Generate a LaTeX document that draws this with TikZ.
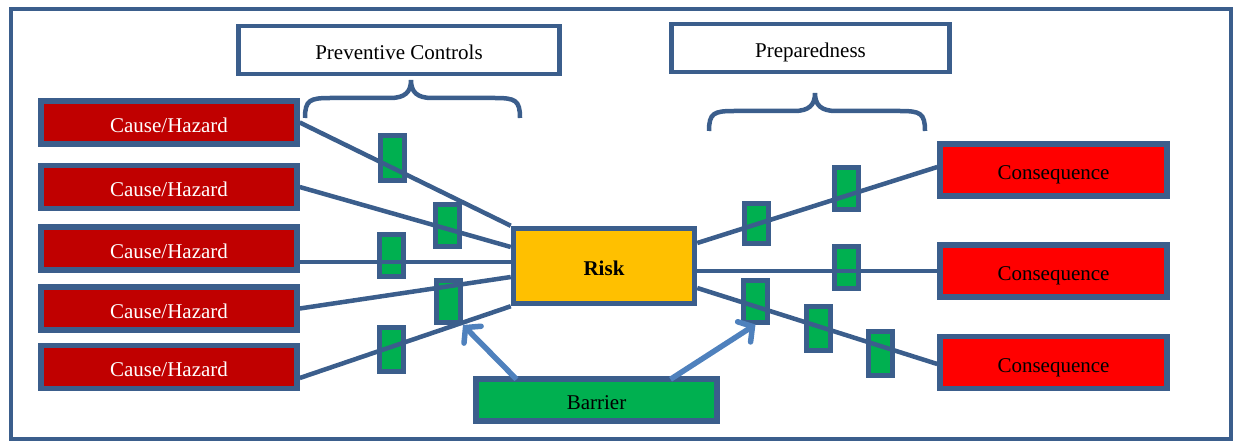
\documentclass[tikz,border=0pt]{standalone}
\usepackage{fontspec}
\setmainfont{Liberation Serif}
\usetikzlibrary{arrows.meta}
\definecolor{framec}{HTML}{3B5E8C}
\definecolor{causered}{HTML}{C00000}
\definecolor{conred}{HTML}{FF0000}
\definecolor{riskyel}{HTML}{FFC000}
\definecolor{barg}{HTML}{00B050}
\definecolor{arrowblue}{HTML}{4F81BD}
\begin{document}
\begin{tikzpicture}[x=1pt,y=-1pt,
  every node/.style={font=\fontsize{21}{25}\selectfont, inner sep=0pt, text height=19pt, text depth=0pt},
  box/.style={draw=framec, line width=5.5pt, inner sep=0pt},
  cause/.style={box, fill=causered, text=white, minimum width=256pt, minimum height=43pt},
  conseq/.style={box, fill=conred, text=black, minimum width=227pt, minimum height=52pt},
  titlebox/.style={box, fill=white, line width=4.5pt, minimum height=48pt},
  gbar/.style={draw=framec, fill=barg, line width=5pt, minimum width=24pt, minimum height=42pt, text height=0pt},
  link/.style={draw=framec, line width=4.5pt},
  barrow/.style={draw=arrowblue, line width=5.5pt, -{Straight Barb[length=10pt,width=24pt,line cap=round]}},
  bracec/.style={draw=framec, line width=4.5pt}
]
\useasboundingbox (0,0) rectangle (1233,441);
\draw[framec, line width=4pt] (10.5,9.5) rectangle (1230.5,439);

% title boxes
\node[titlebox, minimum width=321pt] (prev) at (399,50) {Preventive Controls};
\node[titlebox, minimum width=278pt] (prep) at (810.5,48) {Preparedness};

% braces
\draw[bracec] (305,118) .. controls (305,100) and (310,98) .. (330,98) -- (390,98)
  .. controls (405,98) and (411,92) .. (411,80)
  .. controls (411,92) and (417,98) .. (432,98) -- (495,98)
  .. controls (515,98) and (520,100) .. (520,118);
\draw[bracec] (709,131) .. controls (709,113) and (714,111) .. (734,111) -- (794,111)
  .. controls (809,111) and (815,105) .. (815,93)
  .. controls (815,105) and (821,111) .. (836,111) -- (900,111)
  .. controls (920,111) and (925,113) .. (925,131);

% green barriers
\node[gbar, minimum height=45pt] (g1) at (392,158) {};
\node[gbar] (g2) at (447,225.5) {};
\node[gbar] (g3) at (391,255) {};
\node[gbar] (g4) at (448.5,301.5) {};
\node[gbar, minimum height=44pt] (g5) at (391.5,349.5) {};
\node[gbar, minimum height=40pt] (g6) at (756.5,223.5) {};
\node[gbar] (g7) at (846,188.5) {};
\node[gbar] (g8) at (846,267) {};
\node[gbar] (g9) at (755.5,301) {};
\node[gbar, minimum height=44pt] (g10) at (818.5,328.5) {};
\node[gbar, minimum height=44pt] (g11) at (880.5,353.5) {};

% causes
\node[cause] (c1) at (169,122.5) {Cause/Hazard};
\node[cause] (c2) at (169,187) {Cause/Hazard};
\node[cause] (c3) at (169,248.5) {Cause/Hazard};
\node[cause] (c4) at (169,308.5) {Cause/Hazard};
\node[cause] (c5) at (169,367) {Cause/Hazard};

% risk
\node[box, fill=riskyel, minimum width=181pt, minimum height=75pt,
  font=\fontsize{21}{25}\selectfont\bfseries] (risk) at (604,266) {Risk};

% consequences
\node[conseq] (k1) at (1053.5,170) {Consequence};
\node[conseq] (k2) at (1053.5,271) {Consequence};
\node[conseq] (k3) at (1053.5,362.5) {Consequence};

% barrier
\node[box, fill=barg, minimum width=241pt, minimum height=42pt] (barrier) at (596.5,400) {Barrier};

% links
\draw[link] (c1.east) -- (risk.north west);
\draw[link] (c2.east) -- ([yshift=19pt]risk.west);
\draw[link] ([yshift=-13.5pt]c3.east) -- ([yshift=4pt]risk.west);
\draw[link] (c4.east) -- ([yshift=-11pt]risk.west);
\draw[link] ([yshift=-11pt]c5.east) -- (risk.south west);
\draw[link] ([yshift=23pt]risk.east) -- ([yshift=3pt]k1.west);
\draw[link] ([yshift=-5pt]risk.east) -- (k2.west);
\draw[link] ([yshift=-22pt]risk.east) -- ([yshift=-1.5pt]k3.west);

% barrier arrows
\draw[barrow] ([xshift=-80pt,yshift=-3pt]barrier.north) -- (g4.south east);
\draw[barrow] ([xshift=74pt,yshift=-3pt]barrier.north) -- (g9.south);
\end{tikzpicture}
\end{document}
